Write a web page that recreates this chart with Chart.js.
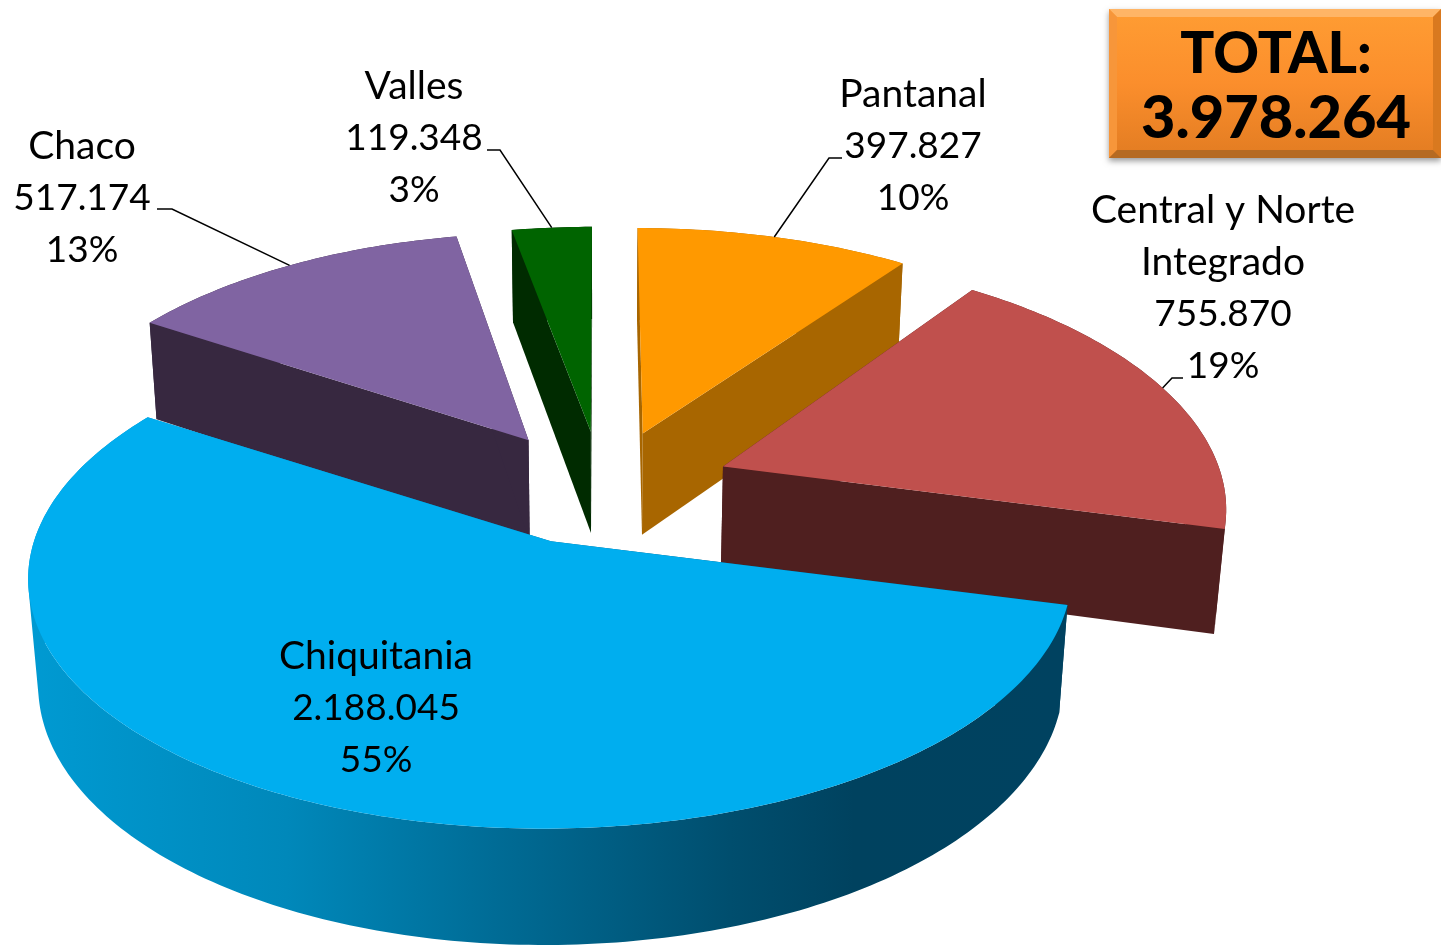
<!DOCTYPE html>
<html><head><meta charset="utf-8">
<style>html,body{margin:0;padding:0;background:#fff}#w{position:relative;width:1441px;height:945px}</style>
<script src="https://cdn.jsdelivr.net/npm/chart.js@4/dist/chart.umd.min.js"></script>
</head><body><div id="w"><canvas id="c" width="1441" height="945"></canvas></div>
<script>
// Data
const categories = ['Pantanal', 'Central y Norte Integrado', 'Chiquitania', 'Chaco', 'Valles'];
const values = [397827, 755870, 2188045, 517174, 119348];
const percents = ['10%', '19%', '55%', '13%', '3%'];
const totalLabel = 'TOTAL:';
const totalValue = '3.978.264';
// Styles and layout
const labelLines = [['Pantanal'], ['Central y Norte', 'Integrado'], ['Chiquitania'], ['Chaco'], ['Valles']];
const topColors = ['#ff9900', '#c0504d', '#00aeef', '#8064a2', '#006400'];
const wallColors = ['#a86600', '#4f1f1f', null, '#372840', '#002b00'];
const explode = [100, 100, 112, 100, 100];
const nudgeX = [13, 30, -3, -17, 0];
const nudgeY = [-6, 2, 13, -4, -5];
const squash = [1, 1, 0.94, 1, 1];
const widen = [1.027, 1, 1, 1, 1];
const labelX = [913, 1223, 376, 82, 414];
const labelY = [94, 210, 656, 146, 86];
const leaderFrom = [[842,158,829,158], [1183,378,1172,378], null, [157,209,172,209], [487,150,500,150]];
const paintOrder = [4, 0, 3, 1, 2];
const cam = {cx: 600, cy: 482, p: 0.000282, k: 0.494, q: 0.017, h: 105, R: 500};

const fmt = v => String(v).replace(/\B(?=(\d{3})+$)/g, '.');
function P(X, Y, Z) {
  const f = 1 / (1 - cam.p * Y + cam.q * Z);
  return [cam.cx + X * f, cam.cy + (Y * cam.k + Z * cam.h) * f];
}
function poly(ctx, pts, fill) {
  ctx.beginPath();
  pts.forEach((p, i) => i ? ctx.lineTo(p[0], p[1]) : ctx.moveTo(p[0], p[1]));
  ctx.closePath();
  ctx.fillStyle = fill;
  ctx.fill();
}
function strips(ctx, t, b, fill) {
  ctx.beginPath();
  for (let j = 0; j < t.length - 1; j++) {
    let q = [t[j], t[j + 1], b[j + 1], b[j]], area = 0;
    q.forEach((p, n) => { const r = q[(n + 1) % 4]; area += p[0] * r[1] - r[0] * p[1]; });
    if (area < 0) q = q.reverse();
    q.forEach((p, n) => n ? ctx.lineTo(p[0], p[1]) : ctx.moveTo(p[0], p[1]));
    ctx.closePath();
  }
  ctx.fillStyle = fill;
  ctx.fill('nonzero');
}
function geom(arc, i) {
  const mid = (arc.startAngle + arc.endAngle) / 2, off = arc.options.offset || 0;
  const ox = Math.cos(mid) * off + nudgeX[i], oy = Math.sin(mid) * off + nudgeY[i];
  const rim = (a, z) => P(ox + cam.R * Math.cos(a) * widen[i], oy + cam.R * Math.sin(a) * squash[i], z);
  const apex = z => P(ox, oy, z);
  const arcPts = z => {
    const n = Math.max(4, Math.ceil((arc.endAngle - arc.startAngle) * 60)), out = [];
    for (let j = 0; j <= n; j++) out.push(rim(arc.startAngle + (arc.endAngle - arc.startAngle) * j / n, z));
    return out;
  };
  return {mid, rim, apex, arcPts};
}
const scene = {
  id: 'scene',
  beforeDatasetsDraw(chart) {
    const ctx = chart.ctx, arcs = chart.getDatasetMeta(0).data;
    ctx.save();
    paintOrder.forEach(i => {
      const arc = arcs[i], g = geom(arc, i);
      let wall = wallColors[i];
      if (!wall) {
        wall = ctx.createLinearGradient(30, 0, 1060, 0);
        wall.addColorStop(0, '#009ad2');
        wall.addColorStop(0.25, '#0088ba');
        wall.addColorStop(0.45, '#006c96');
        wall.addColorStop(0.68, '#004e6e');
        wall.addColorStop(0.8, '#00425f');
        wall.addColorStop(1, '#004260');
      }
      const t = g.arcPts(0), b = g.arcPts(1);
      strips(ctx, t, b, wall);
      poly(ctx, [g.apex(0), t[0], b[0], g.apex(1)], wall);
      poly(ctx, [g.apex(0), t[t.length - 1], b[b.length - 1], g.apex(1)], wall);
      poly(ctx, [g.apex(0)].concat(t), topColors[i]);
    });
    // leader lines
    ctx.strokeStyle = '#000'; ctx.lineWidth = 1.5;
    arcs.forEach((arc, i) => {
      if (!leaderFrom[i]) return;
      const g = geom(arc, i), e = g.rim(g.mid, 0), l = leaderFrom[i];
      ctx.beginPath(); ctx.moveTo(l[0], l[1]); ctx.lineTo(l[2], l[3]); ctx.lineTo(e[0], e[1]); ctx.stroke();
    });
    // labels
    ctx.fillStyle = '#000'; ctx.textAlign = 'center'; ctx.textBaseline = 'middle';
    categories.forEach((c, i) => {
      const names = labelLines[i];
      ctx.font = '39px Lato, sans-serif';
      names.forEach((s, j) => ctx.fillText(s, labelX[i], labelY[i] + j * 52));
      ctx.font = '37px Lato, sans-serif';
      [fmt(values[i]), percents[i]].forEach((s, j) => ctx.fillText(s, labelX[i], labelY[i] + (names.length + j) * 52));
    });
    // total box
    const x = 1109, y = 9, w = 332, h = 149, bv = 8;
    ctx.save();
    ctx.shadowColor = 'rgba(0,0,0,0.4)'; ctx.shadowBlur = 6; ctx.shadowOffsetY = 3;
    ctx.fillStyle = '#f08a28'; ctx.fillRect(x, y, w, h);
    ctx.restore();
    const gr = ctx.createLinearGradient(0, y, 0, y + h);
    gr.addColorStop(0, '#ff9d33'); gr.addColorStop(0.5, '#fb8e2c'); gr.addColorStop(1, '#e27c22');
    ctx.fillStyle = gr; ctx.fillRect(x, y, w, h);
    poly(ctx, [[x,y],[x+w,y],[x+w-bv,y+bv],[x+bv,y+bv]], '#ffb566');
    poly(ctx, [[x,y],[x+bv,y+bv],[x+bv,y+h-bv],[x,y+h]], '#f7963a');
    poly(ctx, [[x+w,y],[x+w-bv,y+bv],[x+w-bv,y+h-bv],[x+w,y+h]], '#d9791f');
    poly(ctx, [[x,y+h],[x+bv,y+h-bv],[x+w-bv,y+h-bv],[x+w,y+h]], '#b56a22');
    ctx.fillStyle = '#000';
    ctx.font = '900 56.5px Lato, sans-serif';
    ctx.fillText(totalLabel, 1276, 55);
    ctx.font = '900 59.5px Lato, sans-serif';
    ctx.fillText(totalValue, 1276, 119);
    ctx.restore();
    return false;
  }
};
new Chart(document.getElementById('c'), {
  type: 'pie',
  data: {labels: categories, datasets: [{data: values, backgroundColor: topColors, offset: explode, borderWidth: 0}]},
  options: {
    responsive: false, animation: false, rotation: 0,
    plugins: {legend: {display: false}, tooltip: {enabled: false}, title: {display: false}}
  },
  plugins: [scene]
});
</script></body></html>
